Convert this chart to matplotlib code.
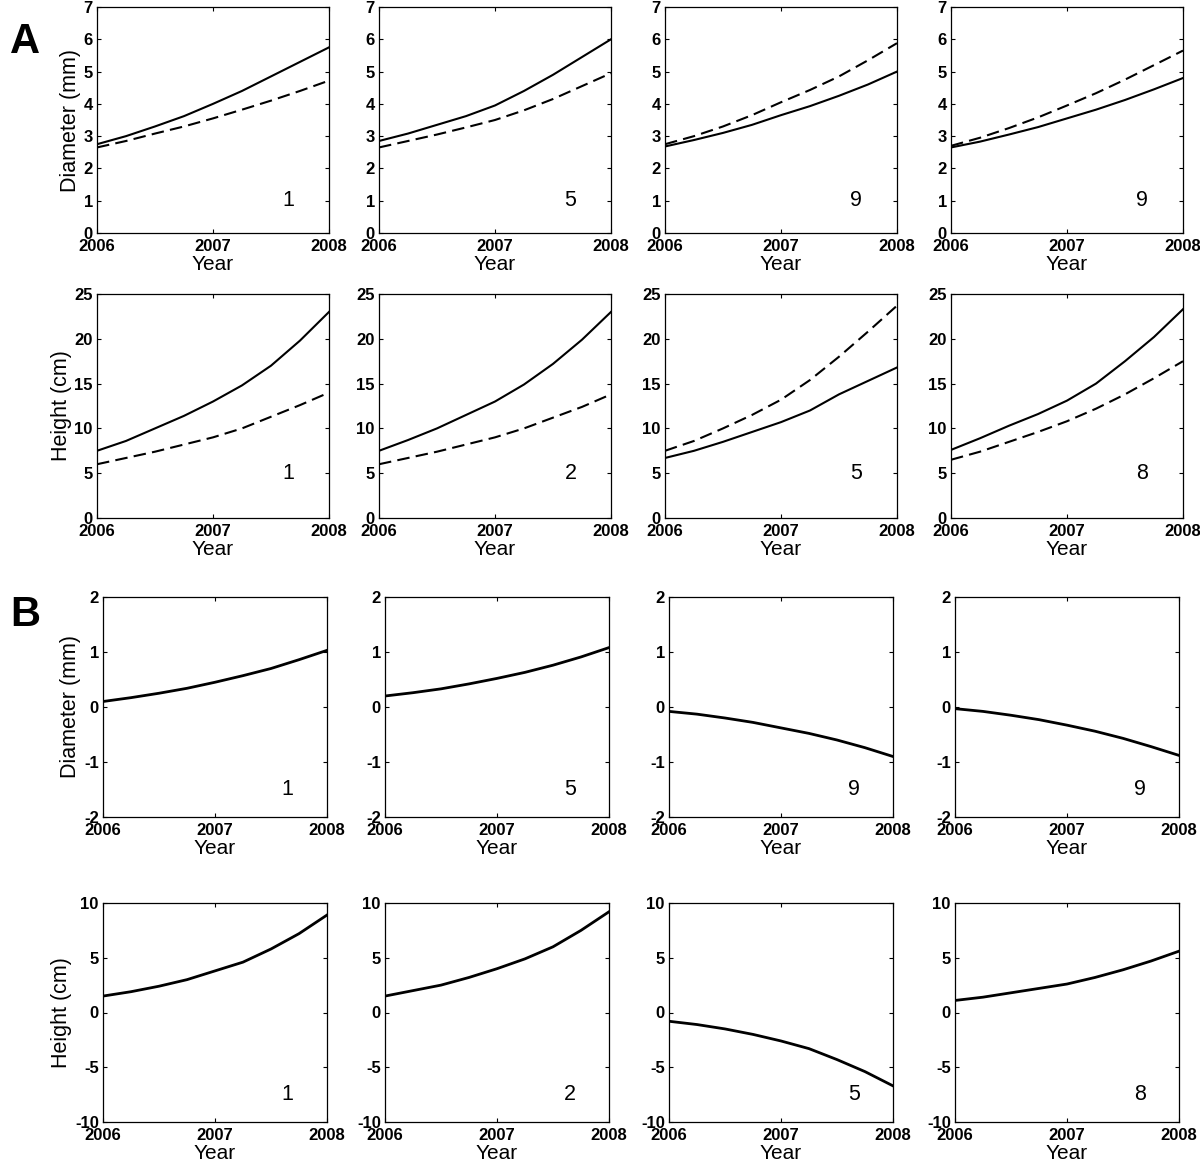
import matplotlib
matplotlib.use('Agg')
import matplotlib.pyplot as plt
plt.rcParams['font.family'] = ['Liberation Sans', 'DejaVu Sans']
plt.rcParams['axes.unicode_minus'] = False

years = [2006, 2006.25, 2006.5, 2006.75, 2007, 2007.25, 2007.5, 2007.75, 2008]

# A: diameter (mm), solid / dashed
diam_panels = ['1', '5', '9', '9']
diam_solid = [[2.75, 3.0, 3.3, 3.62, 4.0, 4.4, 4.85, 5.3, 5.75],
              [2.85, 3.08, 3.35, 3.62, 3.95, 4.4, 4.9, 5.45, 6.0],
              [2.68, 2.88, 3.1, 3.35, 3.65, 3.93, 4.25, 4.6, 5.0],
              [2.65, 2.83, 3.05, 3.28, 3.55, 3.82, 4.12, 4.45, 4.8]]
diam_dash = [[2.65, 2.85, 3.08, 3.3, 3.55, 3.82, 4.1, 4.4, 4.72],
             [2.65, 2.85, 3.05, 3.27, 3.5, 3.8, 4.15, 4.55, 4.95],
             [2.75, 3.0, 3.3, 3.65, 4.05, 4.43, 4.85, 5.35, 5.88],
             [2.7, 2.95, 3.25, 3.58, 3.95, 4.33, 4.75, 5.2, 5.65]]
# A: height (cm)
height_panels = ['1', '2', '5', '8']
height_solid = [[7.5, 8.6, 10.0, 11.4, 13.0, 14.8, 17.0, 19.8, 23.0],
                [7.5, 8.7, 10.0, 11.5, 13.0, 14.9, 17.2, 19.9, 23.0],
                [6.7, 7.5, 8.5, 9.6, 10.7, 12.0, 13.8, 15.3, 16.8],
                [7.6, 8.9, 10.3, 11.6, 13.1, 15.0, 17.5, 20.2, 23.3]]
height_dash = [[6.0, 6.7, 7.4, 8.2, 9.0, 10.0, 11.3, 12.6, 14.0],
               [6.0, 6.7, 7.4, 8.2, 9.0, 10.0, 11.2, 12.4, 13.8],
               [7.5, 8.6, 10.0, 11.5, 13.2, 15.4, 18.0, 20.8, 23.7],
               [6.5, 7.4, 8.5, 9.6, 10.8, 12.2, 13.8, 15.6, 17.5]]
# B: differences
ddiam = [[0.1, 0.17, 0.25, 0.34, 0.45, 0.57, 0.7, 0.86, 1.03],
         [0.2, 0.26, 0.33, 0.42, 0.52, 0.63, 0.76, 0.91, 1.08],
         [-0.08, -0.13, -0.2, -0.28, -0.38, -0.48, -0.6, -0.74, -0.9],
         [-0.03, -0.08, -0.15, -0.23, -0.33, -0.44, -0.57, -0.72, -0.88]]
dheight = [[1.5, 1.9, 2.4, 3.0, 3.8, 4.6, 5.8, 7.2, 8.9],
           [1.5, 2.0, 2.5, 3.2, 4.0, 4.9, 6.0, 7.5, 9.2],
           [-0.8, -1.1, -1.5, -2.0, -2.6, -3.3, -4.3, -5.4, -6.7],
           [1.1, 1.4, 1.8, 2.2, 2.6, 3.2, 3.9, 4.7, 5.6]]

W, H = 1200, 1164
fig = plt.figure(figsize=(W/100, H/100), dpi=100)

def make_ax(left, top, right, bottom):
    return fig.add_axes([left/W, 1-bottom/H, (right-left)/W, (bottom-top)/H])

def style(ax, ylim, yticks, ylabel, num, numy):
    ax.set_xlim(2006, 2008)
    ax.set_ylim(*ylim)
    ax.set_xticks([2006, 2007, 2008])
    ax.set_xticklabels(['2006', '2007', '2008'])
    ax.set_yticks(yticks)
    ax.tick_params(direction='in', top=True, right=True, length=3, width=0.8,
                   labelsize=12, pad=3)
    ax.tick_params(axis='x', pad=4)
    for lab in ax.get_xticklabels() + ax.get_yticklabels():
        lab.set_fontweight('bold')
    for s in ax.spines.values():
        s.set_linewidth(0.9)
    ax.set_xlabel('Year', fontsize=15, labelpad=1)
    if ylabel:
        ax.set_ylabel(ylabel, fontsize=15.5, labelpad=2)
    ax.text(2007.65, numy, num, fontsize=15.5, ha='center', va='center')

lefts_a = [97, 379, 665, 951]
lefts_b = [103, 385, 669, 955]
wa, wb = 232, 224

for i in range(4):
    ax = make_ax(lefts_a[i], 7, lefts_a[i]+wa, 233)
    ax.plot(years, diam_solid[i], color='black', lw=1.5)
    ax.plot(years, diam_dash[i], color='black', lw=1.5, ls=(0, (6, 3)))
    style(ax, (0, 7), range(0, 8), 'Diameter (mm)' if i == 0 else None,
          diam_panels[i], 1.0)

    ax = make_ax(lefts_a[i], 294, lefts_a[i]+wa, 518)
    ax.plot(years, height_solid[i], color='black', lw=1.5)
    ax.plot(years, height_dash[i], color='black', lw=1.5, ls=(0, (6, 3)))
    style(ax, (0, 25), range(0, 26, 5), 'Height (cm)' if i == 0 else None,
          height_panels[i], 5.0)

    ax = make_ax(lefts_b[i], 597, lefts_b[i]+wb, 817)
    ax.plot(years, ddiam[i], color='black', lw=2)
    style(ax, (-2, 2), range(-2, 3), 'Diameter (mm)' if i == 0 else None,
          diam_panels[i], -1.5)

    ax = make_ax(lefts_b[i], 903, lefts_b[i]+wb, 1122)
    ax.plot(years, dheight[i], color='black', lw=2)
    style(ax, (-10, 10), range(-10, 11, 5), 'Height (cm)' if i == 0 else None,
          height_panels[i], -7.5)

fig.text(10/W, 1-42/H, 'A', fontsize=30, fontweight='bold', va='center', ha='left')
fig.text(10/W, 1-615/H, 'B', fontsize=30, fontweight='bold', va='center', ha='left')

fig.savefig('out.png', dpi=100)
